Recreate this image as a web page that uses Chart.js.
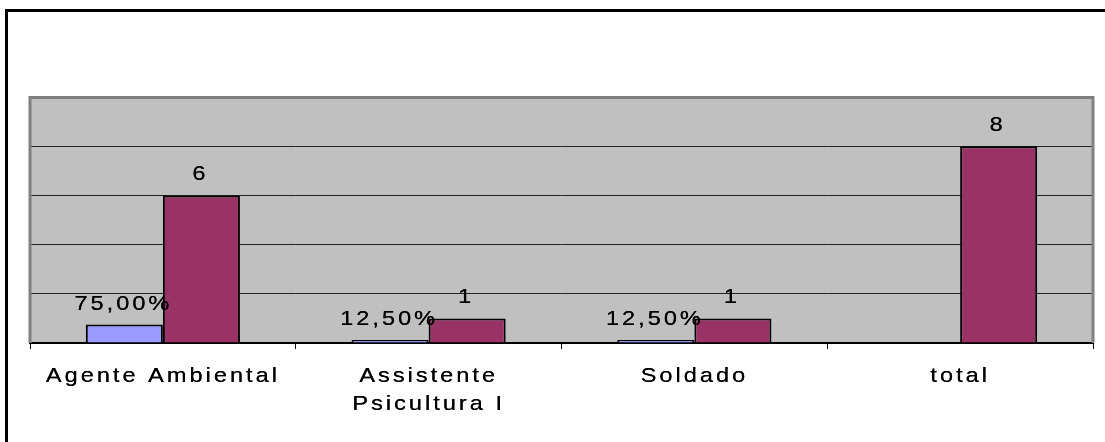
<!DOCTYPE html>
<html>
<head>
<meta charset="utf-8">
<script src="https://cdn.jsdelivr.net/npm/chart.js@4"></script>
<style>
  html, body { margin: 0; padding: 0; background: #fff; }
  #wrap { width: 1105px; height: 442px; position: relative; }
</style>
</head>
<body>
<div id="wrap"><canvas id="c" width="1105" height="442"></canvas></div>
<script>
// ---- data ----
const categories = ['Agente Ambiental', ['Assistente', 'Psicultura I'], 'Soldado', 'total'];
const shareValues = [0.75, 0.125, 0.125, null];   // shown as percentages
const countValues = [6, 1, 1, 8];
const yMin = 0, yMax = 10, yStep = 2;

const FONT_FAMILY = '"Liberation Sans", Arial, sans-serif';
const FONT_SIZE = 21;
const LS = '2.7px';
const SX = 1.12; // horizontal text stretch, as in the original rendering

function fmtShare(v) { return (v * 100).toFixed(2).replace('.', ',') + '%'; }

function patchText(chart) {
  const ctx = chart.ctx;
  ctx.letterSpacing = LS;
  if (ctx.__stretched) return;
  const orig = ctx.fillText;
  ctx.fillText = function (t, x, y) {
    this.save();
    this.translate(x, y);
    this.scale(SX, 1);
    orig.call(this, t, 0, 0);
    orig.call(this, t, 0.12, 0);
    this.restore();
  };
  ctx.__stretched = true;
}

const spacingPlugin = {
  id: 'spacing',
  beforeInit(chart) { patchText(chart); },
  beforeUpdate(chart) { patchText(chart); },
  beforeLayout(chart) { patchText(chart); },
  beforeDraw(chart) {
    patchText(chart);
    const ctx = chart.ctx;
    const a = chart.chartArea;
    ctx.save();
    // outer frame (only left & top visible)
    ctx.fillStyle = '#000';
    ctx.fillRect(5, 9, 3, chart.height);
    ctx.fillRect(5, 9, chart.width, 3);
    // plot background
    ctx.fillStyle = '#C0C0C0';
    ctx.fillRect(a.left, a.top, a.right - a.left, a.bottom - a.top);
    ctx.restore();
  },
  beforeDatasetsDraw(chart) {
    const ctx = chart.ctx;
    const a = chart.chartArea;
    ctx.save();
    ctx.strokeStyle = '#808080';
    ctx.lineWidth = 3;
    ctx.beginPath();
    ctx.moveTo(a.left, a.bottom);
    ctx.lineTo(a.left, a.top + 0.5);
    ctx.lineTo(a.right, a.top + 0.5);
    ctx.lineTo(a.right, a.bottom);
    ctx.stroke();
    ctx.restore();
  },
  afterDatasetsDraw(chart) {
    const ctx = chart.ctx;
    ctx.save();
    ctx.letterSpacing = LS;
    ctx.font = FONT_SIZE + 'px ' + FONT_FAMILY;
    ctx.fillStyle = '#000';
    ctx.textAlign = 'center';
    ctx.textBaseline = 'alphabetic';
    chart.data.datasets.forEach((ds, di) => {
      const meta = chart.getDatasetMeta(di);
      meta.data.forEach((bar, i) => {
        const v = ds.data[i];
        if (v === null || v === undefined) return;
        const txt = di === 0 ? fmtShare(v) : String(v);
        ctx.fillText(txt, bar.x - 1, bar.y - 15);
      });
    });
    ctx.restore();
  }
};

new Chart(document.getElementById('c'), {
  type: 'bar',
  data: {
    labels: categories,
    datasets: [
      {
        label: 'Percentual',
        data: shareValues,
        backgroundColor: '#9999FF',
        borderColor: '#000',
        borderWidth: 2,
        categoryPercentage: 0.58,
        barPercentage: 1.0
      },
      {
        label: 'Quantidade',
        data: countValues,
        backgroundColor: '#993366',
        borderColor: '#000',
        borderWidth: 2,
        categoryPercentage: 0.58,
        barPercentage: 1.0
      }
    ]
  },
  options: {
    responsive: false,
    devicePixelRatio: 1,
    animation: false,
    layout: { padding: { left: 30, right: 12, top: 97, bottom: 0 } },
    plugins: { legend: { display: false }, tooltip: { enabled: false } },
    scales: {
      x: {
        offset: true,
        grid: {
          display: true,
          offset: true,
          drawOnChartArea: false,
          drawTicks: true,
          tickLength: 6,
          color: '#000',
          lineWidth: 1
        },
        border: { display: true, color: '#000', width: 2 },
        ticks: {
          autoSkip: false,
          maxRotation: 0,
          minRotation: 0,
          padding: 13,
          color: '#000',
          font: { family: FONT_FAMILY, size: FONT_SIZE, lineHeight: 28 / FONT_SIZE }
        },
        afterFit(scale) { scale.height = 99; }
      },
      y: {
        min: yMin,
        max: yMax,
        ticks: { stepSize: yStep, display: false },
        grid: {
          drawTicks: false,
          color: (c) => (c.tick && (c.tick.value === yMin || c.tick.value === yMax)) ? 'rgba(0,0,0,0)' : '#222',
          lineWidth: 1
        },
        border: { display: false },
        afterFit(scale) { scale.width = 0; }
      }
    }
  },
  plugins: [spacingPlugin]
});
</script>
</body>
</html>
